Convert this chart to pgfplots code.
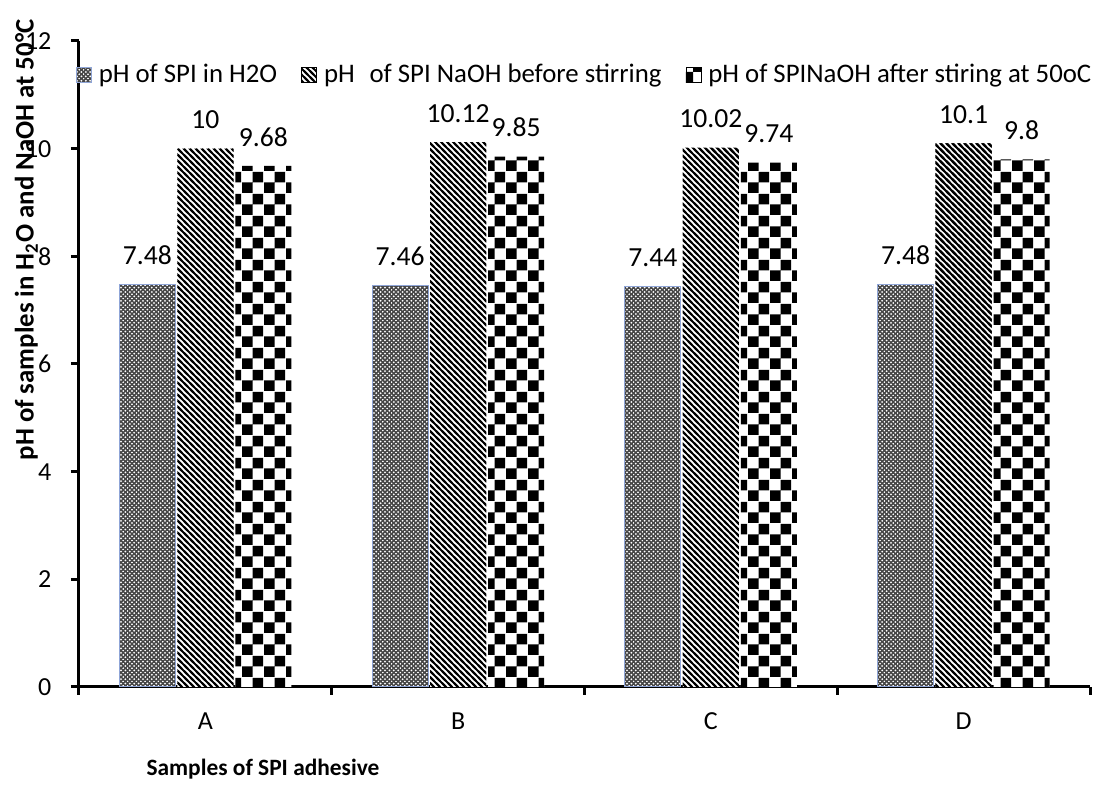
\documentclass[border=0pt]{standalone}
\usepackage{fontspec}
\setmainfont{Carlito}
\usepackage{pgfplots}
\pgfplotsset{compat=1.18}
\usetikzlibrary{patterns}
\pgfdeclarepatternformonly{mycheck}{\pgfpointorigin}{\pgfqpoint{11pt}{11pt}}{\pgfqpoint{11pt}{11pt}}{%
  \pgfpathrectangle{\pgfpointorigin}{\pgfqpoint{5.5pt}{5.5pt}}%
  \pgfpathrectangle{\pgfqpoint{5.5pt}{5.5pt}}{\pgfqpoint{5.5pt}{5.5pt}}%
  \pgfusepath{fill}}
\pgfdeclarepatternformonly{mydiag}{\pgfqpoint{-1pt}{-1pt}}{\pgfqpoint{4pt}{4pt}}{\pgfqpoint{3pt}{3pt}}{%
  \pgfsetlinewidth{1.05pt}%
  \pgfpathmoveto{\pgfqpoint{0pt}{3pt}}\pgfpathlineto{\pgfqpoint{3pt}{0pt}}%
  \pgfpathmoveto{\pgfqpoint{-1pt}{1pt}}\pgfpathlineto{\pgfqpoint{1pt}{-1pt}}%
  \pgfpathmoveto{\pgfqpoint{2pt}{4pt}}\pgfpathlineto{\pgfqpoint{4pt}{2pt}}%
  \pgfusepath{stroke}}
\pgfdeclarepatternformonly{mydots}{\pgfqpoint{-1pt}{-1pt}}{\pgfqpoint{3pt}{3pt}}{\pgfqpoint{2.2pt}{2.2pt}}{%
  \pgfpathcircle{\pgfqpoint{1.1pt}{1.1pt}}{0.5pt}%
  \pgfpathcircle{\pgfqpoint{0pt}{0pt}}{0.3pt}%
  \pgfpathcircle{\pgfqpoint{2.2pt}{0pt}}{0.3pt}%
  \pgfpathcircle{\pgfqpoint{0pt}{2.2pt}}{0.3pt}%
  \pgfpathcircle{\pgfqpoint{2.2pt}{2.2pt}}{0.3pt}%
  \pgfusepath{fill}}
\definecolor{barblue}{RGB}{143,165,215}
\pgfplotstableread{
x a b c
0 7.48 10 9.68
1 7.46 10.12 9.85
2 7.44 10.02 9.74
3 7.48 10.1 9.8
}\datatable
\begin{document}
\fontsize{13.8}{16}\selectfont
\begin{tikzpicture}
\begin{axis}[
  scale only axis,
  width=505.5pt, height=323pt,
  ybar=1pt, bar width=28pt,
  xmin=-0.5, xmax=3.5,
  ymin=0, ymax=12,
  ytick={0,2,...,12},
  xtick={0,1,2,3},
  xticklabels={A,B,C,D},
  minor xtick={-0.5,0.5,1.5,2.5,3.5},
  major x tick style={draw=none},
  tick align=outside,
  major tick length=4pt,
  minor tick length=4pt,
  every tick/.style={black, line width=1.5pt},
  axis x line*=bottom,
  axis y line*=left,
  axis line style={line width=1.5pt, -},
  /pgf/number format/assume math mode=true,
  ticklabel style={font=\fontsize{13}{15}\selectfont},
  yticklabel style={xshift=-5pt},
  xticklabel style={yshift=-4pt},
  xlabel={\textbf{Samples of SPI adhesive}},
  xlabel style={font=\fontsize{11.7}{14}\selectfont, at={(axis description cs:0.182,0)}, anchor=north, yshift=-31pt},
  ylabel={\textbf{pH of samples in H$_\mathbf{2}$O and NaOH at 50\textdegree C}},
  ylabel style={font=\fontsize{13.4}{16}\selectfont, at={(axis description cs:-0.052,0.692)}, anchor=center},
  nodes near coords,
  every node near coord/.append style={font=\fontsize{13.8}{16}\selectfont, yshift=5pt},
  legend columns=-1,
  legend style={at={(axis description cs:0.501,0.947)}, anchor=center, draw=none, fill=none, inner sep=0pt,
    font=\fontsize{13.4}{16}\selectfont,
    /tikz/every odd column/.append style={column sep=1.5pt},
    /tikz/every even column/.append style={column sep=10pt}},
  legend image code/.code={\draw[#1] (0pt,-3.7pt) rectangle (7.5pt,3.7pt);},
]
\addplot[draw=barblue, line width=0.5pt, fill=black!72, postaction={pattern=mydots, pattern color=white}] table[x=x,y=a]{\datatable};
\addplot[draw=none, fill=white, postaction={pattern=mydiag, pattern color=black}] table[x=x,y=b]{\datatable};
\addplot[draw=none, fill=white, postaction={pattern=mycheck, pattern color=black}] table[x=x,y=c]{\datatable};
\legend{pH of SPI in H2O, pH\hspace{0.55em}of SPI NaOH before stirring, pH of SPINaOH after stiring at 50oC}
\coordinate (sw) at (rel axis cs:0,0);
\coordinate (ne) at (rel axis cs:1,1);
\end{axis}
\pgfresetboundingbox
\path ([xshift=-39.5pt,yshift=-50pt]sw) rectangle ([xshift=1.5pt,yshift=20.5pt]ne);
\end{tikzpicture}
\end{document}
